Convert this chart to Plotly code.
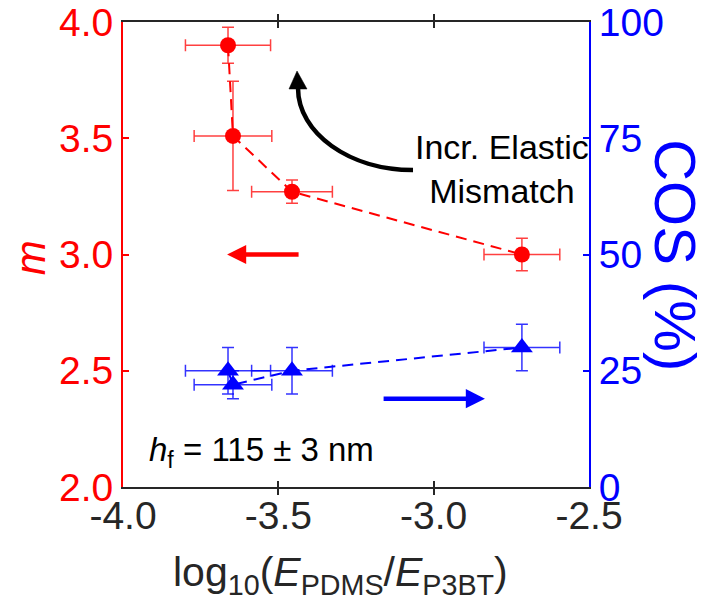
import plotly.graph_objects as go

# ---- data ----
log_ratio = [-3.662, -3.646, -3.456, -2.716]
log_ratio_err = [0.137, 0.125, 0.13, 0.122]
m_vals = [3.90, 3.51, 3.27, 3.00]
m_err = [0.077, 0.235, 0.05, 0.07]
cos_vals = [25.0, 22.0, 25.0, 30.0]
cos_err = [5.0, 3.0, 5.0, 5.0]

x_ticks = [-4.0, -3.5, -3.0, -2.5]
x_tick_labels = ["-4.0", "-3.5", "-3.0", "-2.5"]
m_ticks = [2.0, 2.5, 3.0, 3.5, 4.0]
m_tick_labels = ["2.0", "2.5", "3.0", "3.5", "4.0"]
cos_ticks = [0, 25, 50, 75, 100]

FONT = "Liberation Sans, Arial, sans-serif"
RED = "#ff0000"
BLUE = "#0000ff"
DARK = "#262626"

fig = go.Figure()

# red dashed connecting line
fig.add_trace(go.Scatter(
    x=log_ratio, y=m_vals, mode="lines",
    line=dict(color=RED, width=2, dash="11px,7px"),
    hoverinfo="skip", showlegend=False))
# red markers with error bars
fig.add_trace(go.Scatter(
    x=log_ratio, y=m_vals, mode="markers",
    marker=dict(symbol="circle", size=16, color=RED),
    error_x=dict(type="data", array=log_ratio_err, color="rgba(255,0,0,0.75)", thickness=1.5, width=6),
    error_y=dict(type="data", array=m_err, color="rgba(255,0,0,0.75)", thickness=1.5, width=6),
    showlegend=False))

# blue dashed line
fig.add_trace(go.Scatter(
    x=log_ratio, y=cos_vals, mode="lines", yaxis="y2",
    line=dict(color=BLUE, width=2, dash="11px,7px"),
    hoverinfo="skip", showlegend=False))
fig.add_trace(go.Scatter(
    x=log_ratio, y=cos_vals, mode="markers", yaxis="y2",
    marker=dict(symbol="triangle-up", size=19, color=BLUE),
    error_x=dict(type="data", array=log_ratio_err, color="rgba(0,0,255,0.8)", thickness=1.5, width=6),
    error_y=dict(type="data", array=cos_err, color="rgba(0,0,255,0.8)", thickness=1.5, width=6),
    showlegend=False))

# curved black arrow (decorative)
fig.add_shape(type="path", xref="x", yref="y",
              path="M -3.0665,3.3634 C -3.2709,3.3634 -3.4367,3.5213 -3.4367,3.7161",
              line=dict(color="black", width=4.5))
fig.add_shape(type="path", xref="x", yref="y",
              path="M -3.4398,3.7892 L -3.4657,3.7118 L -3.4077,3.7118 Z",
              fillcolor="black", line=dict(color="black", width=0.5))

# straight arrows
fig.add_annotation(x=-3.665, y=3.0, ax=-3.43, ay=3.0, xref="x", yref="y",
                   axref="x", ayref="y", text="", showarrow=True,
                   arrowhead=2, arrowwidth=4.5, arrowsize=0.85, arrowcolor=RED)
fig.add_annotation(x=-2.835, y=19, ax=-3.166, ay=19, xref="x", yref="y2",
                   axref="x", ayref="y2", text="", showarrow=True,
                   arrowhead=2, arrowwidth=4.5, arrowsize=0.85, arrowcolor=BLUE)

fig.add_annotation(x=0.813, y=0.684, xref="paper", yref="paper",
                   xanchor="center", yanchor="middle",
                   text="Incr. Elastic<br>Mismatch", showarrow=False,
                   font=dict(family=FONT, size=34, color="black"), align="center")
fig.add_annotation(x=0.0515, y=0.075, xref="paper", yref="paper",
                   xanchor="left", yanchor="middle",
                   text="<i>h</i><sub>f</sub> = 115 ± 3 nm", showarrow=False,
                   font=dict(family=FONT, size=33, color="black"))
# axis titles
fig.add_annotation(x=1.184, y=0.499, xref="paper", yref="paper",
                   xanchor="center", yanchor="middle",
                   text="COS (%)", textangle=90, showarrow=False,
                   font=dict(family=FONT, size=58, color=BLUE))
fig.add_annotation(x=-0.197, y=0.4925, xref="paper", yref="paper",
                   xanchor="center", yanchor="middle",
                   text="<i>m</i>", textangle=-90, showarrow=False,
                   font=dict(family=FONT, size=42, color=RED))
fig.add_annotation(x=0.4657, y=-0.189, xref="paper", yref="paper",
                   xanchor="center", yanchor="middle",
                   text="log<sub>10</sub>(<i>E</i><sub>PDMS</sub>/<i>E</i><sub>P3BT</sub>)",
                   showarrow=False, font=dict(family=FONT, size=41, color=DARK))

fig.update_layout(
    width=704, height=599,
    margin=dict(l=115, r=123, t=14, b=120),
    plot_bgcolor="white", paper_bgcolor="white",
    font=dict(family=FONT),
    xaxis=dict(range=[-4.0, -2.5], tickvals=x_ticks, ticktext=x_tick_labels,
               ticks="inside", ticklen=6, tickcolor=DARK, tickwidth=1.5,
               showline=True, linecolor=DARK, linewidth=2, mirror="allticks",
               showgrid=False, zeroline=False, automargin=False,
               ticklabelstandoff=-7, ticklabeloverflow="allow",
               tickfont=dict(family=FONT, size=39, color=DARK)),
    yaxis=dict(range=[2.0, 4.0], tickvals=m_ticks, ticktext=m_tick_labels,
               ticks="inside", ticklen=6, tickcolor=RED, tickwidth=1.5,
               showline=True, linecolor=RED, linewidth=2,
               showgrid=False, zeroline=False, automargin=False,
               ticklabeloverflow="allow",
               tickfont=dict(family=FONT, size=39, color=RED)),
    yaxis2=dict(range=[0, 100], tickvals=cos_ticks, overlaying="y", side="right",
                ticks="inside", ticklen=6, tickcolor=BLUE, tickwidth=1.5,
                showline=True, linecolor=BLUE, linewidth=2,
                showgrid=False, zeroline=False, automargin=False,
                ticklabeloverflow="allow",
                tickfont=dict(family=FONT, size=39, color=BLUE)),
)

fig.write_html("out.html")
